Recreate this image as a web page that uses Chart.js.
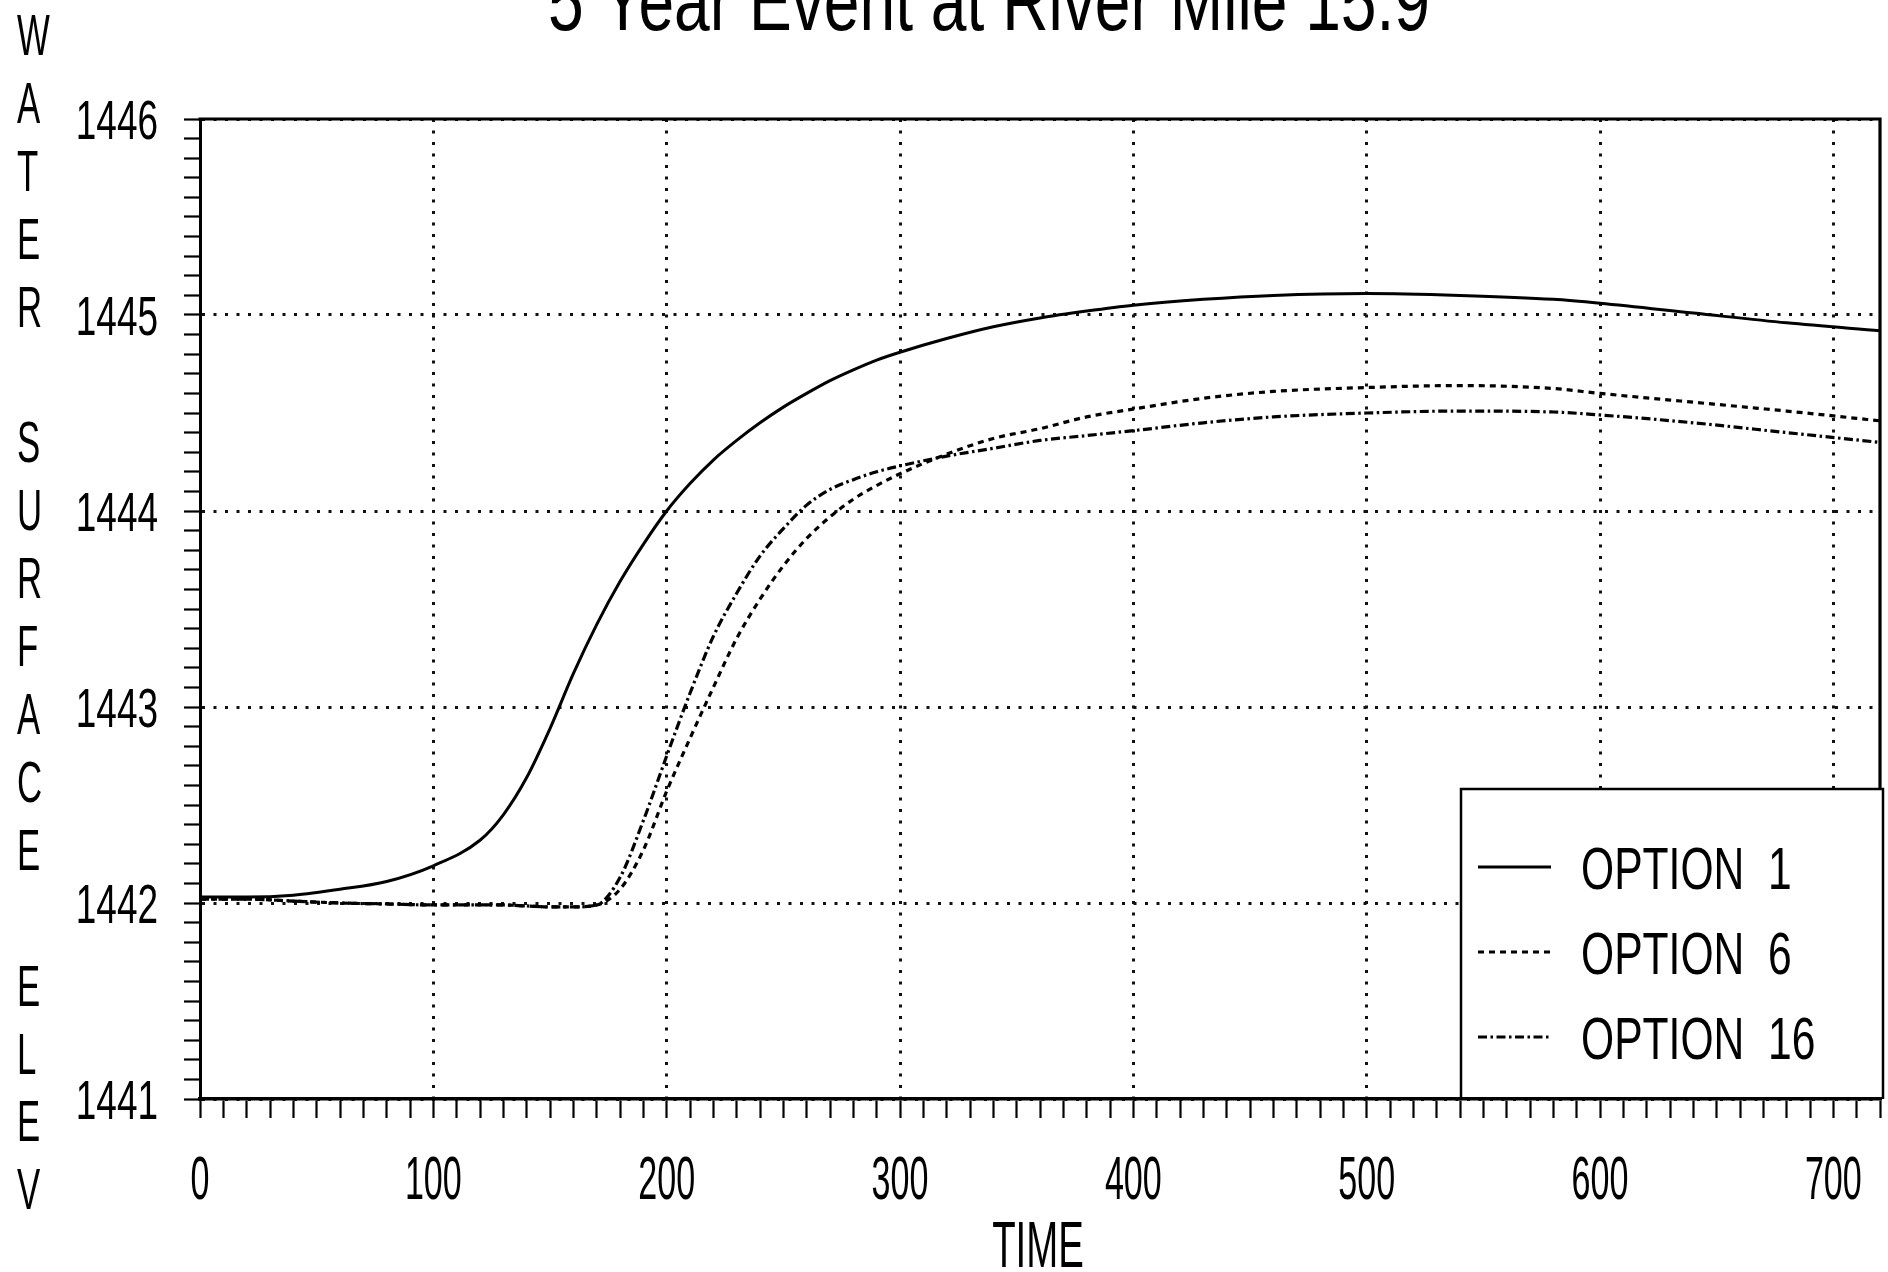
<!DOCTYPE html>
<html>
<head>
<meta charset="utf-8">
<script src="https://cdn.jsdelivr.net/npm/chart.js@4.4.1/dist/chart.umd.min.js"></script>
<style>
  html, body { margin: 0; padding: 0; background: #fff; }
  #wrap { width: 1888px; height: 1272px; position: relative; }
</style>
</head>
<body>
<div id="wrap"><canvas id="stageChart"></canvas></div>
<script>
// values (time vs water surface elevation)
const timeHours = [0, 20, 40, 60, 80, 100, 120, 130, 140, 150, 160, 170, 180, 190, 200, 210, 220, 230, 240, 250,
  260, 270, 280, 290, 300, 320, 340, 360, 380, 400, 430, 460, 500, 540, 580, 600, 640, 680, 720];

const option1 = [1442.03, 1442.03, 1442.04, 1442.07, 1442.11, 1442.19, 1442.32, 1442.45, 1442.64, 1442.89,
  1443.17, 1443.42, 1443.64, 1443.83, 1444.00, 1444.14, 1444.26, 1444.36, 1444.45, 1444.53,
  1444.60, 1444.665, 1444.72, 1444.77, 1444.81, 1444.88, 1444.94, 1444.985, 1445.02, 1445.05,
  1445.08, 1445.10, 1445.11, 1445.10, 1445.08, 1445.06, 1445.01, 1444.96, 1444.92];

const option6 = [1442.02, 1442.02, 1442.01, 1442.00, 1441.995, 1441.99, 1441.99, 1441.99, 1441.985, 1441.98,
  1441.98, 1441.99, 1442.07, 1442.27, 1442.57, 1442.84, 1443.10, 1443.35, 1443.55, 1443.72,
  1443.86, 1443.97, 1444.06, 1444.13, 1444.19, 1444.29, 1444.37, 1444.42, 1444.48, 1444.52,
  1444.575, 1444.61, 1444.63, 1444.64, 1444.625, 1444.60, 1444.555, 1444.51, 1444.46];

const option16 = [1442.02, 1442.02, 1442.01, 1442.00, 1441.995, 1441.99, 1441.99, 1441.99, 1441.985, 1441.98,
  1441.98, 1441.99, 1442.13, 1442.42, 1442.75, 1443.07, 1443.36, 1443.58, 1443.77, 1443.91,
  1444.03, 1444.11, 1444.16, 1444.20, 1444.23, 1444.28, 1444.32, 1444.36, 1444.385, 1444.41,
  1444.45, 1444.48, 1444.50, 1444.51, 1444.505, 1444.49, 1444.45, 1444.40, 1444.35];

const seriesLabels = ['OPTION 1', 'OPTION 6', 'OPTION 16'];
const chartTitle = '5 Year Event at River Mile 15.9';
const xTitle = 'TIME';
const yTitle = 'WATER SURFACE ELEV';

const FONT = '"Liberation Sans", Arial, sans-serif';

// plotter-style narrow lettering
function narrowText(ctx, text, x, y, size, sx, align) {
  ctx.save();
  ctx.font = size + 'px ' + FONT;
  ctx.fillStyle = '#000';
  ctx.textAlign = align || 'left';
  ctx.textBaseline = 'alphabetic';
  ctx.translate(x, y);
  ctx.scale(sx, 1);
  ctx.fillText(text, 0, 0);
  ctx.restore();
}

const isWhole = v => Math.abs(v - Math.round(v)) < 1e-6;

const plotterExtras = {
  id: 'plotterExtras',
  afterDraw(chart) {
    const { ctx, chartArea: a, scales } = chart;
    const xs = scales.x, ys = scales.y;

    // frame top + right
    ctx.save();
    ctx.strokeStyle = '#000';
    ctx.lineWidth = 3.2;
    ctx.beginPath();
    ctx.moveTo(a.left - 1.5, a.top);
    ctx.lineTo(a.right, a.top);
    ctx.lineTo(a.right, a.bottom);
    ctx.stroke();
    ctx.restore();

    // y tick labels
    ys.ticks.forEach(t => {
      if (!isWhole(t.value)) return;
      const py = ys.getPixelForValue(t.value);
      narrowText(ctx, String(Math.round(t.value)), 158, py + 20, 56, 0.66, 'right');
    });

    // x tick labels
    xs.ticks.forEach(t => {
      if (t.value % 100 !== 0) return;
      const px = xs.getPixelForValue(t.value);
      narrowText(ctx, String(t.value), px, 1199, 62, 0.55, 'center');
    });

    // axis titles
    narrowText(ctx, xTitle, (a.left + a.right) / 2 - 2, 1267, 64, 0.6, 'center');
    yTitle.split('').forEach((ch, k) => {
      if (ch === ' ') return;
      narrowText(ctx, ch, 17, 34 + 67.9 * k + 21, 58, 0.6, 'left');
    });

    // main title, squeezed to the width seen in the scan (top is cut off)
    ctx.save();
    ctx.font = '84px ' + FONT;
    const tw = ctx.measureText(chartTitle).width;
    ctx.restore();
    narrowText(ctx, chartTitle, 989, 30, 84, 882 / tw, 'center');

    // legend box
    const box = { left: 1461, top: 789, right: 1883, bottom: a.bottom };
    ctx.save();
    ctx.fillStyle = '#fff';
    ctx.fillRect(box.left, box.top, box.right - box.left, box.bottom - box.top - 2);
    ctx.strokeStyle = '#000';
    ctx.lineWidth = 2.5;
    ctx.beginPath();
    ctx.moveTo(box.left, box.bottom);
    ctx.lineTo(box.left, box.top);
    ctx.lineTo(box.right, box.top);
    ctx.lineTo(box.right, box.bottom);
    ctx.stroke();
    ctx.restore();

    const rowY = [867, 952, 1037];
    chart.data.datasets.forEach((ds, i) => {
      ctx.save();
      ctx.strokeStyle = '#000';
      ctx.lineWidth = ds.borderWidth;
      ctx.setLineDash(ds.borderDash || []);
      ctx.beginPath();
      ctx.moveTo(1478, rowY[i]);
      ctx.lineTo(1551, rowY[i]);
      ctx.stroke();
      ctx.restore();
      narrowText(ctx, ds.label.replace(' ', '  '), 1581, rowY[i] + 22, 60, 0.71, 'left');
    });
  }
};

const ctx = document.getElementById('stageChart').getContext('2d');
new Chart(ctx, {
  type: 'line',
  data: {
    labels: timeHours,
    datasets: [
      { label: seriesLabels[0], data: option1, borderColor: '#000', borderWidth: 3, borderDash: [] },
      { label: seriesLabels[1], data: option6, borderColor: '#000', borderWidth: 3.2, borderDash: [6, 5] },
      { label: seriesLabels[2], data: option16, borderColor: '#000', borderWidth: 3.2, borderDash: [9, 3.5, 2.5, 3.5] }
    ]
  },
  options: {
    responsive: true,
    maintainAspectRatio: false,
    animation: false,
    layout: { padding: { top: 119, right: 8, left: 0, bottom: 0 }, autoPadding: false },
    elements: {
      point: { radius: 0, hoverRadius: 0 },
      line: { cubicInterpolationMode: 'monotone', fill: false }
    },
    plugins: {
      legend: { display: false },
      title: { display: false },
      tooltip: { enabled: false }
    },
    scales: {
      x: {
        type: 'linear',
        min: 0,
        max: 720,
        ticks: { display: false, stepSize: 10 },
        grid: {
          color: c => (c.tick && c.tick.value % 100 === 0 ? '#111' : 'rgba(0,0,0,0)'),
          lineWidth: 3,
          tickColor: '#000',
          tickWidth: 2.2,
          tickLength: 19
        },
        border: { display: true, color: '#000', width: 3.5, dash: [3, 8.5] },
        afterFit: s => { s.height = 173; }
      },
      y: {
        type: 'linear',
        min: 1441,
        max: 1446,
        ticks: { display: false, stepSize: 0.1 },
        grid: {
          color: c => (c.tick && isWhole(c.tick.value) ? '#111' : 'rgba(0,0,0,0)'),
          lineWidth: 3,
          tickColor: '#000',
          tickWidth: 2.2,
          tickLength: 16
        },
        border: { display: true, color: '#000', width: 3, dash: [3, 8.5] },
        afterFit: s => { s.width = 200; }
      }
    }
  },
  plugins: [plotterExtras]
});
</script>
</body>
</html>
